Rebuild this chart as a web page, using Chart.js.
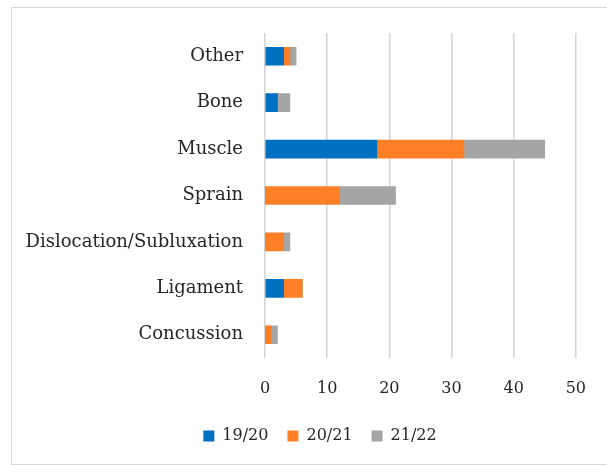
<!DOCTYPE html>
<html>
<head>
<meta charset="utf-8">
<script src="https://cdn.jsdelivr.net/npm/chart.js@4.4.0/dist/chart.umd.min.js"></script>
<style>
  body { margin: 0; background: #fff; overflow: hidden; }
  #wrap { position: relative; width: 607px; height: 465px; }
  #frame {
    position: absolute; left: 11px; top: 7px; width: 610px; height: 456px;
    border: 1px solid #d9d9d9;
  }
  canvas { position: absolute; left: 0; top: 0; }
</style>
</head>
<body>
<div id="wrap">
  <div id="frame"></div>
  <canvas id="injuryChart" width="607" height="465"></canvas>
</div>
<script>
"use strict";

// injury types, top to bottom
const categories = [
  "Other",
  "Bone",
  "Muscle",
  "Sprain",
  "Dislocation/Subluxation",
  "Ligament",
  "Concussion",
];
const season1920 = [3, 2, 18, 0, 0, 3, 0];
const season2021 = [1, 0, 14, 12, 3, 3, 1];
const season2122 = [1, 2, 13, 9, 1, 0, 1];
const xTicks = [0, 10, 20, 30, 40, 50];

const serif = "'DejaVu Serif', 'Liberation Serif', serif";
const textColor = "#262626";

// nudge the legend so it centres under the plot like the original
const shiftLegend = {
  id: "shiftLegend",
  afterLayout(chart) {
    chart.legend.left += 56;
  },
};

const ctx = document.getElementById("injuryChart").getContext("2d");

new Chart(ctx, {
  type: "bar",
  data: {
    labels: categories,
    datasets: [
      { label: "19/20", data: season1920, backgroundColor: "#0070C0" },
      { label: "20/21", data: season2021, backgroundColor: "#FF7F27" },
      { label: "21/22", data: season2122, backgroundColor: "#A5A5A5" },
    ],
  },
  options: {
    indexAxis: "y",
    responsive: false,
    animation: false,
    datasets: {
      bar: { barThickness: 18, borderWidth: 0 },
    },
    layout: {
      padding: { left: 0, right: 23, top: 33, bottom: 11 },
    },
    scales: {
      x: {
        stacked: true,
        min: 0,
        max: 50,
        afterBuildTicks: (scale) => {
          scale.ticks = xTicks.map((v) => ({ value: v }));
        },
        afterFit: (scale) => {
          scale.height = 51;
        },
        grid: { color: "#d4d4d4", lineWidth: 1.5, drawTicks: false },
        border: { display: false },
        ticks: {
          padding: 21,
          color: textColor,
          font: { family: serif, size: 16 },
        },
      },
      y: {
        stacked: true,
        afterFit: (scale) => {
          scale.width = 265;
        },
        grid: { display: false, drawTicks: false },
        border: { display: false },
        ticks: {
          padding: 22,
          color: textColor,
          font: { family: serif, size: 18 },
        },
      },
    },
    plugins: {
      tooltip: { enabled: false },
      legend: {
        position: "bottom",
        labels: {
          boxWidth: 11,
          boxHeight: 11,
          padding: 19,
          color: textColor,
          font: { family: serif, size: 16 },
        },
      },
    },
  },
  plugins: [shiftLegend],
});
</script>
</body>
</html>
